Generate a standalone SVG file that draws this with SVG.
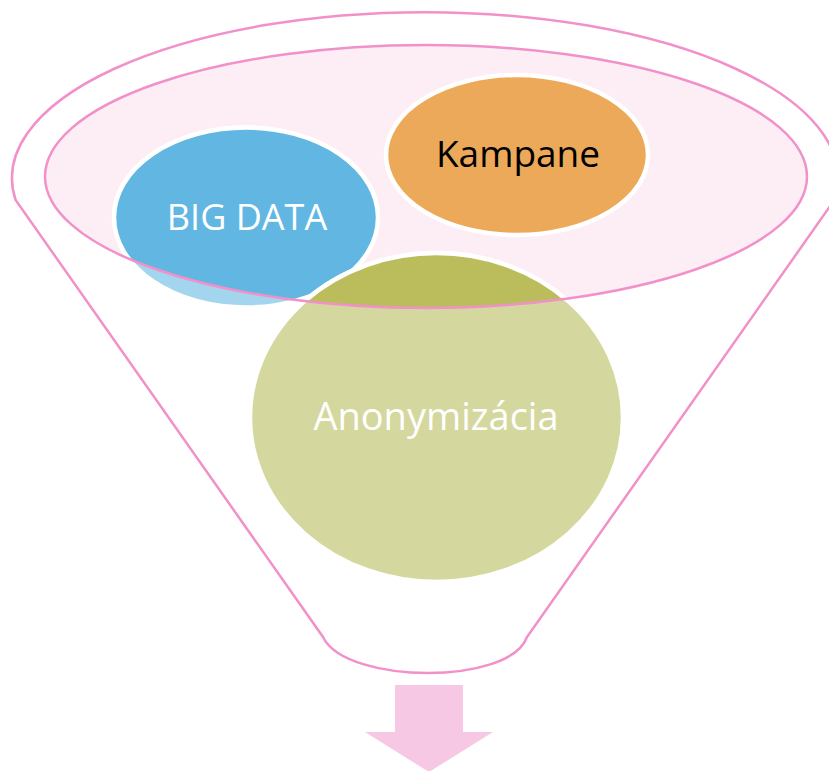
<svg xmlns="http://www.w3.org/2000/svg" width="829" height="771" viewBox="0 0 829 771">
<style>
.pk{fill:none;stroke:#F290C9;stroke-width:2.5}
.lbl{font-family:"Open Sans","Noto Sans",sans-serif;text-anchor:middle}
.w{stroke:#FFFFFF;stroke-width:4.5}
</style>
<defs>
<clipPath id="inner"><ellipse cx="426" cy="176.5" rx="381" ry="131.5"/></clipPath>
</defs>
<rect width="829" height="771" fill="#FFFFFF"/>
<g id="funnel">
<path class="pk" d="M 15.6 200 A 413 166 0 1 1 834.4 200 L 527 637 C 518 662 471 673 428 673 C 385 673 335 662 323 637 Z"/>
</g>
<g id="inner-ellipse-fill">
<ellipse cx="426" cy="176.5" rx="381" ry="131.5" fill="#FDEEF5"/>
</g>
<g id="bigdata">
<ellipse class="w" cx="246" cy="217.5" rx="132" ry="90" fill="#A3D6EE"/>
<ellipse class="w" clip-path="url(#inner)" cx="246" cy="217.5" rx="132" ry="90" fill="#62B7E2"/>
<text class="lbl" x="247" y="230" font-size="36" fill="#FFFFFF">BIG DATA</text>
</g>
<g id="kampane">
<ellipse class="w" cx="517" cy="155" rx="131" ry="80" fill="#ECA95A"/>
<text class="lbl" x="518" y="167" font-size="37" fill="#000000">Kampane</text>
</g>
<g id="anonymizacia">
<ellipse class="w" cx="436.5" cy="417.5" rx="186.5" ry="164.5" fill="#D5D89E"/>
<ellipse class="w" clip-path="url(#inner)" cx="436.5" cy="417.5" rx="186.5" ry="164.5" fill="#BBBD5C"/>
<text class="lbl" x="436" y="430" font-size="38" fill="#FFFFFF">Anonymizácia</text>
</g>
<g id="inner-ellipse-outline">
<ellipse class="pk" cx="426" cy="176.5" rx="381" ry="131.5"/>
</g>
<g id="connectors">
<path id="arrow" d="M 395 685 L 463 685 L 463 732 L 493 732 L 429 772 L 365 732 L 395 732 Z" fill="#F6C8E3"/>
</g>
</svg>
